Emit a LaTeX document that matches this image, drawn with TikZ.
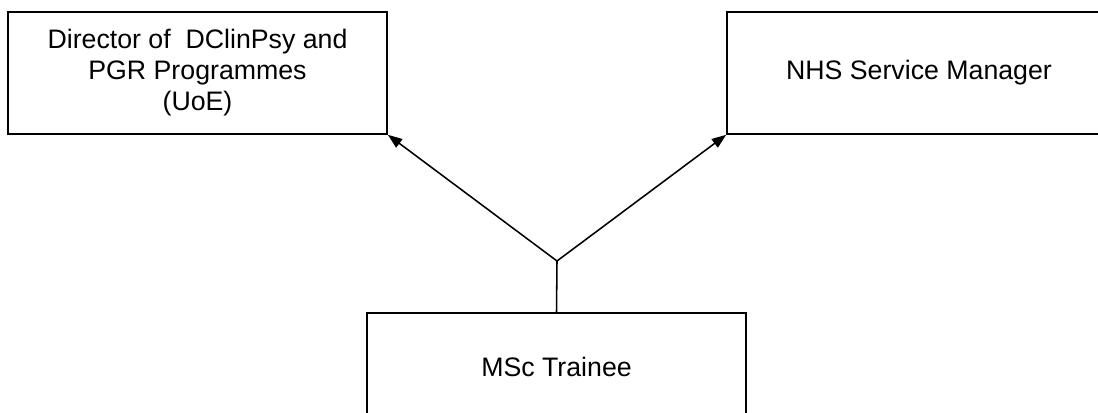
\documentclass[tikz,border=0pt]{standalone}
\usepackage{fontspec}
\setmainfont{Liberation Sans}
\usepackage{tikz}
\usetikzlibrary{positioning,arrows.meta}

\begin{document}
\begin{tikzpicture}[x=0.025cm, y=-0.025cm, line width=1.1pt,
		rolebox/.style={draw, rectangle, inner sep=0pt, text centered, align=center, font=\fontsize{19}{22}\selectfont},
		link/.style={-{Triangle[length=0.36cm, width=0.26cm]}}]
	\useasboundingbox (0,0) rectangle (1098,413);
	\clip (0,0) rectangle (1098,413);
	\node[rolebox, minimum width=9.475cm, minimum height=3.05cm] (dir) at (197.5,73) {Director of\ \ DClinPsy and\\PGR Programmes\\(UoE)};
	\node[rolebox, minimum width=9.6cm, minimum height=3.05cm] (nhs) at (919,73) {NHS Service Manager};
	\node[rolebox, minimum width=9.475cm, minimum height=2.7cm] (msc) at (556.5,367) {MSc Trainee};
	\coordinate (split) at (557,261);

	\draw (msc.north) -- (split);
	\draw[link] (split) -- (dir.south east);
	\draw[link] (split) -- (nhs.south west);
\end{tikzpicture}
\end{document}
